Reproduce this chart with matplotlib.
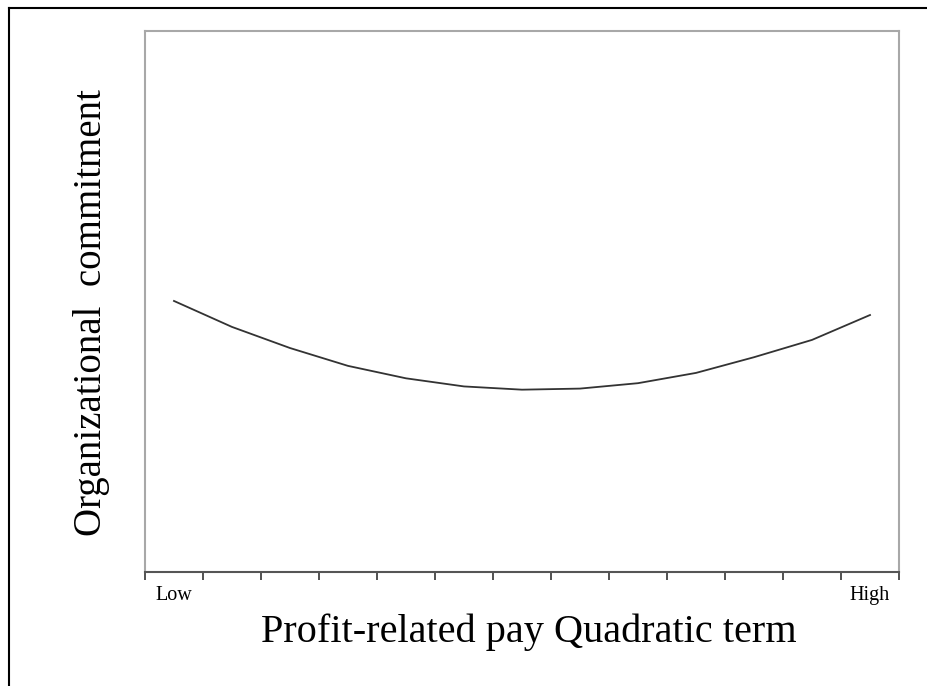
import matplotlib

matplotlib.use("Agg")
import matplotlib.pyplot as plt
from matplotlib.lines import Line2D

plt.rcParams["font.family"] = ["Liberation Serif", "DejaVu Serif"]

# predicted commitment across 13 levels of profit-related pay (arbitrary units)
levels = list(range(1, 14))
commitment = [0.501, 0.453, 0.414, 0.381, 0.358, 0.343, 0.337,
              0.339, 0.349, 0.368, 0.397, 0.429, 0.475]
tick_edges = [x + 0.5 for x in range(0, 14)]
end_labels = ["Low", "High"]

fig = plt.figure(figsize=(9.27, 6.86), dpi=100)
ax = fig.add_axes([0.1564, 0.1662, 0.8134, 0.7886])

ax.plot(levels, commitment, color="#333333", lw=1.3)
ax.set_xlim(0.5, 13.5)
ax.set_ylim(0, 1)

ax.set_yticks([])
ax.set_xticks(tick_edges)
ax.set_xticklabels([])
ax.tick_params(axis="x", which="major", direction="out", length=6,
               width=1.2, color="#333333")
ax.set_xticks([levels[0], levels[-1]], minor=True)
ax.set_xticklabels(end_labels, minor=True, fontsize=14.5)
ax.tick_params(axis="x", which="minor", length=0, pad=10)

for side in ("left", "top", "right"):
    ax.spines[side].set_color("#a8a8a8")
    ax.spines[side].set_linewidth(1.5)
ax.spines["bottom"].set_color("#555555")
ax.spines["bottom"].set_linewidth(1.5)

ax.set_xlabel("Profit-related pay Quadratic term", fontsize=29, labelpad=6)
ax.xaxis.label.set_x(0.509)
ax.set_ylabel("Organizational  commitment", fontsize=28, labelpad=25)
ax.yaxis.label.set_y(0.48)

# frame lines along the top and left edge of the picture
fig.add_artist(Line2D([9 / 927, 1], [1 - 8 / 686, 1 - 8 / 686],
                      transform=fig.transFigure, color="black", lw=1.5))
fig.add_artist(Line2D([9 / 927, 9 / 927], [0, 1 - 8 / 686],
                      transform=fig.transFigure, color="black", lw=1.5))

fig.savefig("out.png", dpi=100)
